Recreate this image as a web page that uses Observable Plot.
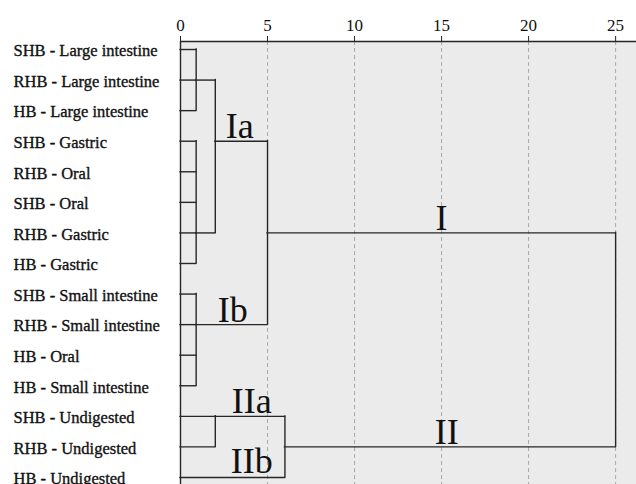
<!DOCTYPE html>
<html>
<head>
<meta charset="utf-8">
<script src="https://cdn.jsdelivr.net/npm/d3@7"></script>
<script src="https://cdn.jsdelivr.net/npm/@observablehq/plot@0.6"></script>
<style>
  html, body { margin: 0; padding: 0; background: #fff; }
  #chart { width: 636px; height: 484px; overflow: hidden; }
</style>
</head>
<body>
<div id="chart"></div>
<script>
// Leaves (rows, top to bottom)
const leaves = [
  "SHB - Large intestine",
  "RHB - Large intestine",
  "HB - Large intestine",
  "SHB - Gastric",
  "RHB - Oral",
  "SHB - Oral",
  "RHB - Gastric",
  "HB - Gastric",
  "SHB - Small intestine",
  "RHB - Small intestine",
  "HB - Oral",
  "HB - Small intestine",
  "SHB - Undigested",
  "RHB - Undigested",
  "HB - Undigested"
];

// Merges (rescaled distance cluster combine)
const mergeIds      = ["A", "B", "C", "D", "E", "F", "G", "root"];
const mergeHeights  = [0.9, 0.9, 2.0, 0.9, 5.0, 2.0, 6.0, 25];
const mergeRows     = [1, 6, 3, 9, 6, 12, 13, null];
const mergeChildren = [[0, 1, 2], [3, 4, 5, 6, 7], ["A", "B"], [8, 9, 10, 11], ["C", "D"], [12, 13], ["F", 14], ["E", "G"]];

// Axis ticks
const xTicks = [0, 5, 10, 15, 20, 25];

// Cluster labels (distance, row)
const clusterNames = ["Ia", "Ib", "I", "II", "IIa", "IIb"];
const clusterX     = [3.4, 3.0, 15.0, 15.3, 4.1, 4.1];
const clusterRow   = [2.9, 8.9, 5.92, 12.9, 11.88, 13.84];

// Build segments
const nodeById = {};
mergeIds.forEach((id, k) => nodeById[id] = {height: mergeHeights[k], row: mergeRows[k]});
const info = c => typeof c === "number" ? {height: 0, row: c} : nodeById[c];
const hSegs = [], vSegs = [];
mergeIds.forEach((id, k) => {
  const kids = mergeChildren[k].map(info);
  kids.forEach(ch => hSegs.push({x1: ch.height, x2: mergeHeights[k], y: ch.row}));
  const rows = kids.map(c => c.row);
  vSegs.push({x: mergeHeights[k], y1: d3.min(rows), y2: d3.max(rows)});
});
const clusters = clusterNames.map((n, i) => ({name: n, x: clusterX[i], y: clusterRow[i]}));

const yDomain = [-0.262, 14.23];
const lineColor = "#262626";
const serif = "'Liberation Serif', 'DejaVu Serif', serif";

const plot = Plot.plot({
  width: 636,
  height: 484,
  marginLeft: 180,
  marginRight: 0,
  marginTop: 41,
  marginBottom: 0,
  style: {background: "#fff", color: "#111"},
  x: {domain: [0, 26.2], axis: null},
  y: {domain: yDomain, reverse: true, axis: null},
  marks: [
    Plot.frame({fill: "#ebebeb", stroke: null}),
    Plot.ruleX(xTicks.slice(1), {stroke: "#a8a8a8", strokeDasharray: "4,3", strokeWidth: 1}),
    Plot.axisX({anchor: "top", ticks: xTicks, tickSize: 6, tickPadding: 5, fontSize: 17, fontFamily: serif, tickFormat: d => d, stroke: lineColor}),
    Plot.ruleY([yDomain[0]], {stroke: lineColor, strokeWidth: 1.7}),
    Plot.ruleX([0], {stroke: lineColor, strokeWidth: 1.4}),
    Plot.ruleY(hSegs, {y: "y", x1: "x1", x2: "x2", stroke: lineColor, strokeWidth: 1.4, strokeLinecap: "square"}),
    Plot.ruleX(vSegs, {x: "x", y1: "y1", y2: "y2", stroke: lineColor, strokeWidth: 1.4, strokeLinecap: "square"}),
    Plot.text(leaves, {y: (d, i) => i, text: d => d, frameAnchor: "left", textAnchor: "start", dx: -167, dy: 1.5, fontSize: 16.5, fontFamily: serif, fill: "#111", stroke: "#111", strokeWidth: 0.35}),
    Plot.text(clusters, {x: "x", y: "y", text: "name", textAnchor: "middle", lineAnchor: "bottom", fontSize: 36, fontFamily: serif, fill: "#111"})
  ]
});
document.getElementById("chart").append(plot);
</script>
</body>
</html>
